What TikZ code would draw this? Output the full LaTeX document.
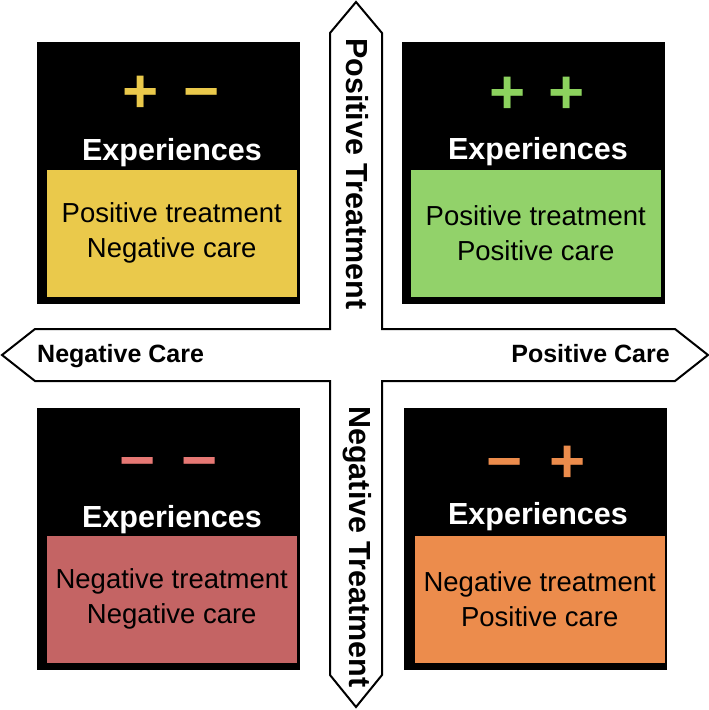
\documentclass[tikz,border=0pt]{standalone}
\usepackage{fontspec}
\setmainfont{Liberation Sans}
\usepackage{xcolor}
\usepackage{tikz}

\definecolor{expyellow}{HTML}{EAC94B}
\definecolor{expgreen}{HTML}{92D26A}
\definecolor{expred}{HTML}{C46464}
\definecolor{exporange}{HTML}{EC8C4C}
\definecolor{signgreen}{HTML}{8CD25E}
\definecolor{signred}{HTML}{E67874}

\begin{document}
\begin{tikzpicture}[x=1pt,y=-1pt,
    blackbox/.style={fill=black,anchor=north west,inner sep=0pt,minimum width=263pt,minimum height=262pt},
    carebox/.style={draw=black,line width=1.5pt,anchor=north west,inner sep=0pt,minimum width=252pt,minimum height=129pt,align=center,font=\fontsize{27.5}{35}\selectfont},
    headtext/.style={text=white,anchor=base,inner sep=0pt,font=\fontsize{30.5}{36}\selectfont\bfseries},
    signtext/.style={anchor=base,inner sep=0pt,font=\fontsize{62}{62}\selectfont\bfseries},
    axistext/.style={inner sep=0pt,font=\fontsize{25}{30}\selectfont\bfseries},
    treattext/.style={inner sep=0pt,rotate=-90,font=\fontsize{30.5}{36}\selectfont\bfseries}]
    \useasboundingbox (0,0) rectangle (709,710);
    \draw[line width=2pt,fill=white] (356,2) -- (382,33) -- (382,329) -- (675,329) -- (708,355)
        -- (675,381) -- (382,381) -- (382,675) -- (356,707) -- (330,675) -- (330,381)
        -- (35,381) -- (2,355) -- (35,329) -- (330,329) -- (330,33) -- cycle;
    \node[axistext,anchor=base west] (negcare) at (37,362) {Negative Care};
    \node[axistext,anchor=base east] (poscare) at (670,362) {Positive Care};
    \node[treattext] (postreat) at (357,174) {Positive Treatment};
    \node[treattext] (negtreat) at (357,547) {Negative Treatment};

    \node[blackbox] (tlbox) at (37,42) {};
    \node[blackbox] (trbox) at (402,42) {};
    \node[blackbox] (blbox) at (37,408) {};
    \node[blackbox] (brbox) at (404,408) {};

    \node[carebox,fill=expyellow] (tlcare) at (45,168) {Positive treatment\\Negative care};
    \node[carebox,fill=expgreen] (trcare) at (409,168) {Positive treatment\\Positive care};
    \node[carebox,fill=expred] (blcare) at (45,534) {Negative treatment\\Negative care};
    \node[carebox,fill=exporange] (brcare) at (413,534) {Negative treatment\\Positive care};

    \node[headtext] (tlhead) at (172,160) {Experiences};
    \node[headtext] (trhead) at (538,159) {Experiences};
    \node[headtext] (blhead) at (172,527) {Experiences};
    \node[headtext] (brhead) at (538,524) {Experiences};

    \node[signtext,text=expyellow] (tlsigna) at (141,112) {+};
    \node[signtext,text=expyellow] (tlsignb) at (202,112) {−};
    \node[signtext,text=signgreen] (trsigna) at (508,113) {+};
    \node[signtext,text=signgreen] (trsignb) at (567,113) {+};
    \node[signtext,text=signred] (blsigna) at (138,481) {−};
    \node[signtext,text=signred] (blsignb) at (200,481) {−};
    \node[signtext,text=exporange] (brsigna) at (505,482) {−};
    \node[signtext,text=exporange] (brsignb) at (568,482) {+};
\end{tikzpicture}
\end{document}
